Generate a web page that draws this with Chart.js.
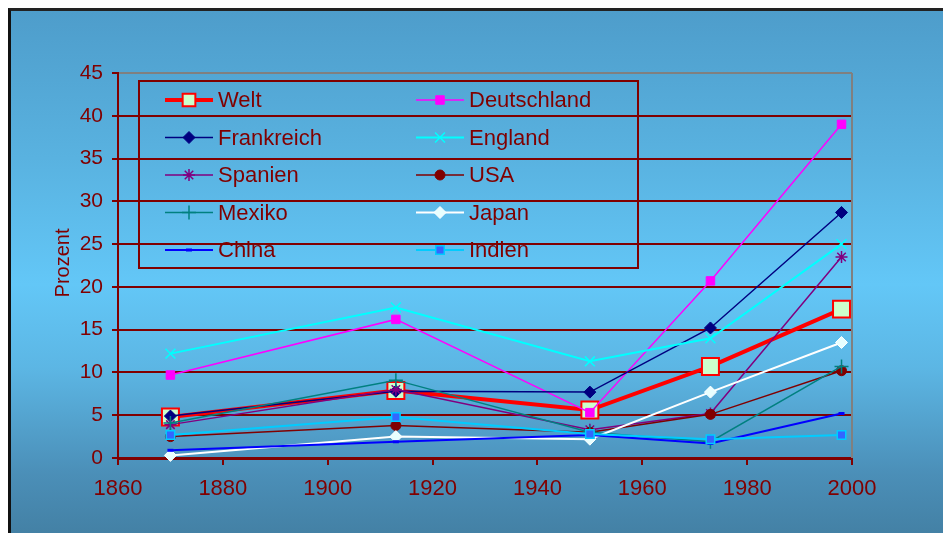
<!DOCTYPE html>
<html>
<head>
<meta charset="utf-8">
<script src="https://cdn.jsdelivr.net/npm/chart.js@4/dist/chart.umd.min.js"></script>
<style>
    html, body { margin: 0; padding: 0; background: #fff; }
    .frame {
        position: absolute; left: 8px; top: 8px; width: 935px; height: 525px;
        border-left: 3px solid #111; border-top: 3px solid #222;
        background: linear-gradient(to bottom, #4e9dcb 0%, #59b2e0 28%, #63c7f7 52%, #5cb6e4 68%, #4b8fb8 88%, #4380a4 100%);
    }
    #exportChart { position: absolute; left: 0; top: 0; }
</style>
</head>
<body>
<div class="frame"></div>
<canvas id="exportChart" width="943" height="533"></canvas>
<script>
// Years and share values (Prozent)
const years = [1870, 1913, 1950, 1973, 1998];
const seriesNames = ['Welt', 'Deutschland', 'Frankreich', 'England', 'Spanien', 'USA', 'Mexiko', 'Japan', 'China', 'Indien'];
const welt        = [4.8, 7.9, 5.6, 10.7, 17.4];
const deutschland = [9.7, 16.2, 5.3, 20.7, 39.0];
const frankreich  = [4.9, 7.8, 7.7, 15.2, 28.7];
const england     = [12.2, 17.6, 11.3, 14.0, 25.0];
const spanien     = [3.9, 8.0, 3.3, 5.2, 23.5];
const usa         = [2.5, 3.8, 3.0, 5.1, 10.2];
const mexiko      = [4.1, 9.1, 3.0, 1.9, 10.7];
const japan       = [0.3, 2.5, 2.2, 7.7, 13.5];
const china       = [0.9, 1.9, 2.7, 1.7, 5.2];
const indien      = [2.7, 4.8, 2.8, 2.2, 2.7];
const xTicks = [1860, 1880, 1900, 1920, 1940, 1960, 1980, 2000];
const yTicks = [0, 5, 10, 15, 20, 25, 30, 35, 40, 45];

const allValues = [welt, deutschland, frankreich, england, spanien, usa, mexiko, japan, china, indien];

// marker look per series
const styles = [
    { color: '#ff0000', width: 4, point: 'rect', r: 12, fill: '#ccffcc', stroke: '#ff0000', pw: 2 },
    { color: '#ff00ff', width: 1.5, point: 'rect', r: 6, fill: '#ff00ff', stroke: '#ff00ff', pw: 1 },
    { color: '#000080', width: 1.5, point: 'rectRot', r: 6, fill: '#000080', stroke: '#000080', pw: 1 },
    { color: '#00ffff', width: 2, point: 'crossRot', r: 7, fill: '#00ffff', stroke: '#00ffff', pw: 1.5 },
    { color: '#800080', width: 1.5, point: 'star', r: 6, fill: '#800080', stroke: '#800080', pw: 1.5 },
    { color: '#800000', width: 1.5, point: 'circle', r: 5, fill: '#800000', stroke: '#800000', pw: 1 },
    { color: '#008080', width: 1.5, point: 'cross', r: 7, fill: '#008080', stroke: '#008080', pw: 1.5 },
    { color: '#ffffff', width: 2, point: 'rectRot', r: 6, fill: '#e8ffff', stroke: '#ffffff', pw: 1 },
    { color: '#0000ff', width: 2, point: 'line', r: 3, fill: '#0000ff', stroke: '#0000ff', pw: 3 },
    { color: '#00ccff', width: 2, point: 'rect', r: 6, fill: '#3366ff', stroke: '#00ccff', pw: 1.5 }
];

const datasets = seriesNames.map((name, i) => ({
    label: name,
    data: years.map((yr, k) => ({ x: yr, y: allValues[i][k] })),
    borderColor: styles[i].color,
    borderWidth: styles[i].width,
    pointStyle: styles[i].point,
    pointRadius: styles[i].r,
    pointBackgroundColor: styles[i].fill,
    pointBorderColor: styles[i].stroke,
    pointBorderWidth: styles[i].pw,
    tension: 0,
    clip: false,
    order: 10 - i
}));

const darkRed = '#800000';

// legend box inside the plot and the rotated axis title
const extrasPlugin = {
    id: 'extras',
    beforeDatasetsDraw(chart) {
        const ctx = chart.ctx;
        const a = chart.chartArea;
        ctx.save();
        ctx.strokeStyle = '#808080';
        ctx.lineWidth = 2;
        ctx.beginPath();
        ctx.moveTo(a.right, a.top);
        ctx.lineTo(a.right, a.bottom);
        ctx.stroke();
        ctx.restore();
    },
    afterDatasetsDraw(chart) {
        const ctx = chart.ctx;
        ctx.save();
        ctx.strokeStyle = darkRed;
        ctx.lineWidth = 2;
        ctx.strokeRect(139, 81, 499, 187);

        ctx.font = '22px "Liberation Sans", Arial, sans-serif';
        ctx.textBaseline = 'middle';
        ctx.textAlign = 'left';
        chart.data.datasets.forEach((ds, i) => {
            const x0 = (i % 2) ? 416 : 165;
            const y = 100 + Math.floor(i / 2) * 37.5;
            ctx.strokeStyle = ds.borderColor;
            ctx.lineWidth = ds.borderWidth;
            ctx.beginPath();
            ctx.moveTo(x0, y);
            ctx.lineTo(x0 + 48, y);
            ctx.stroke();

            ctx.fillStyle = ds.pointBackgroundColor;
            ctx.strokeStyle = ds.pointBorderColor;
            ctx.lineWidth = ds.pointBorderWidth;
            const r = i === 0 ? 9 : ds.pointRadius;
            Chart.helpers.drawPoint(ctx, { pointStyle: ds.pointStyle, radius: r, borderWidth: ds.pointBorderWidth, rotation: 0 }, x0 + 24, y);

            ctx.fillStyle = darkRed;
            ctx.fillText(ds.label, x0 + 53, y + 1);
        });

        ctx.translate(63, 263);
        ctx.rotate(-Math.PI / 2);
        ctx.textAlign = 'center';
        ctx.font = '20px "Liberation Sans", Arial, sans-serif';
        ctx.fillText('Prozent', 0, 0);
        ctx.restore();
    }
};

Chart.defaults.font.family = '"Liberation Sans", Arial, sans-serif';

const myChart = new Chart(document.getElementById('exportChart').getContext('2d'), {
    type: 'line',
    data: { datasets: datasets },
    options: {
        responsive: false,
        animation: false,
        layout: { padding: { left: 40, right: 91, top: 73, bottom: 20 } },
        plugins: { legend: { display: false }, tooltip: { enabled: false } },
        scales: {
            x: {
                type: 'linear',
                min: xTicks[0],
                max: xTicks[xTicks.length - 1],
                afterFit: s => { s.height = 55; },
                afterBuildTicks: s => { s.ticks = xTicks.map(v => ({ value: v })); },
                border: { color: darkRed, width: 3 },
                grid: { drawOnChartArea: false, color: darkRed, tickColor: darkRed, tickLength: 7, lineWidth: 2 },
                ticks: { color: darkRed, font: { size: 22 }, padding: 11, maxRotation: 0, autoSkip: false, callback: v => String(v) }
            },
            y: {
                min: yTicks[0],
                max: yTicks[yTicks.length - 1],
                afterFit: s => { s.width = 78; },
                afterBuildTicks: s => { s.ticks = yTicks.map(v => ({ value: v })); },
                border: { color: darkRed, width: 2 },
                grid: {
                    color: c => (c.tick && c.tick.value === 45) ? '#808080' : darkRed,
                    tickColor: darkRed,
                    tickLength: 6,
                    lineWidth: 2
                },
                ticks: { color: darkRed, font: { size: 21 }, padding: 9, autoSkip: false, callback: v => String(v) }
            }
        }
    },
    plugins: [extrasPlugin]
});
</script>
</body>
</html>
